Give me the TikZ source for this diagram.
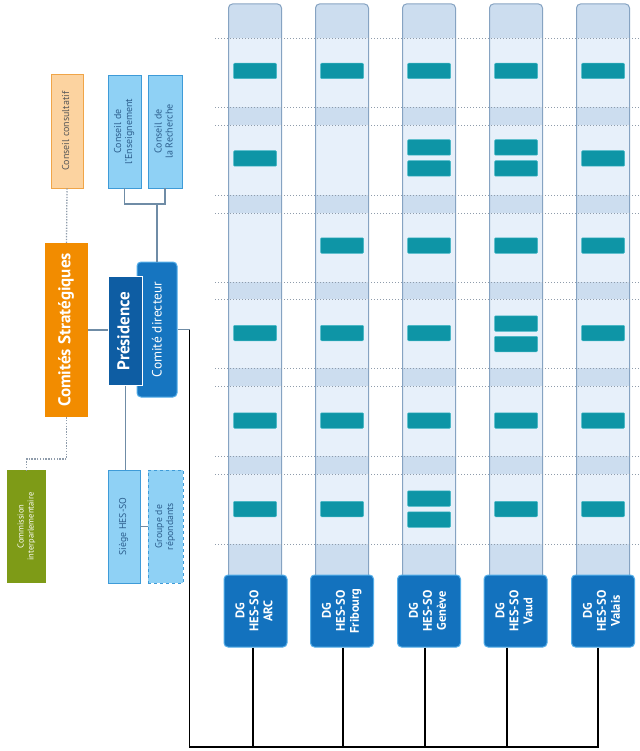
\documentclass[tikz,border=0pt]{standalone}
\usepackage{fontspec}
\setmainfont{PT Sans}
\usepackage{graphicx}
\usetikzlibrary{calc}
\definecolor{orangeS}{HTML}{F28C00}
\definecolor{orangeL}{HTML}{FCD3A0}
\definecolor{orangeB}{HTML}{F0A548}
\definecolor{blueL}{HTML}{8FD1F5}
\definecolor{blueLB}{HTML}{3E9BD8}
\definecolor{blueTxt}{HTML}{2D5F8E}
\definecolor{presBlue}{HTML}{0E5DA3}
\definecolor{cdBlue}{HTML}{1675C0}
\definecolor{cdBorder}{HTML}{55AEE8}
\definecolor{dgBlue}{HTML}{1372BE}
\definecolor{greenC}{HTML}{7E9B17}
\definecolor{colFill}{HTML}{E7F0FA}
\definecolor{colBand}{HTML}{CCDDEF}
\definecolor{colBorder}{HTML}{86A3C2}
\definecolor{tealBar}{HTML}{0E95A6}
\definecolor{tealBorder}{HTML}{45B9C7}
\definecolor{dotGray}{HTML}{8F9CAB}
\definecolor{connGray}{HTML}{6F8CA6}
\newcommand\vtxt[1]{\rotatebox{90}{\begin{tabular}{@{}c@{}}#1\end{tabular}}}
\begin{document}
\begin{tikzpicture}[x=1pt,y=-1pt,
  every node/.style={inner sep=0pt, align=center},
  lbbox/.style={draw=blueLB, fill=blueL, line width=0.8pt, text=blueTxt,
     font=\fontsize{10}{11}\selectfont},
  ccbox/.style={draw=orangeB, fill=orangeL, line width=0.8pt, text=black!65,
     font=\fontsize{10}{11}\selectfont},
  csbox/.style={fill=orangeS, text=white, font=\bfseries\fontsize{17}{19}\selectfont},
  presbox/.style={fill=presBlue, draw=white, line width=1.2pt, text=white,
     font=\bfseries\fontsize{17}{19}\selectfont},
  cdbox/.style={fill=cdBlue, draw=cdBorder, line width=1pt, rounded corners=4pt,
     text=white, font=\fontsize{13.5}{15}\selectfont},
  greenbox/.style={fill=greenC, text=white, font=\fontsize{8.5}{10}\selectfont},
  dgbox/.style={fill=dgBlue, draw=cdBorder, line width=1pt, rounded corners=4pt,
     text=white, minimum width=63, minimum height=72,
     font=\bfseries\fontsize{12.5}{14}\selectfont},
  bar/.style={fill=tealBar, draw=tealBorder, line width=0.5pt, rounded corners=1pt,
     minimum width=43, minimum height=15.5},
  conn/.style={draw=connGray, line width=1.2pt},
  dotconn/.style={draw=dotGray, line width=1.3pt, dash pattern=on 1.3pt off 1.5pt},
  blk/.style={draw=black, line width=1.7pt},
  gridline/.style={draw=dotGray, line width=0.9pt, dash pattern=on 1.2pt off 1.8pt}
]
\useasboundingbox (0,0) rectangle (639,751);
\fill[white] (0,0) rectangle (639,751);

% ---------- columns ----------
\foreach \i in {0,...,4}{
  \pgfmathsetmacro\cx{255+87*\i}
  \begin{scope}
    \clip[rounded corners=4pt] (\cx-26.5,4) rectangle (\cx+26.5,585);
    \fill[colFill] (\cx-26.5,4) rectangle (\cx+26.5,585);
    \foreach \a/\b in {4/38,107/125,195/213,282/299,368/386,456/474,544/585}
      \fill[colBand] (\cx-26.5,\a) rectangle (\cx+26.5,\b);
  \end{scope}
  \draw[colBorder, line width=1pt, rounded corners=4pt] (\cx-26.5,585) -- (\cx-26.5,4) -- (\cx+26.5,4) -- (\cx+26.5,585);
}
% ---------- dotted grid lines ----------
\foreach \y in {38,107,125,195,213,282,299,368,386,456,474,544}
  \draw[gridline] (215,\y) -- (639,\y);

% ---------- bars ----------
\foreach \cx/\ys [count=\i] in {
  255/{71,158.5,333,420.5,509},
  342/{71,245.5,333,420.5,509},
  429/{71,147.5,168.5,245.5,333,420.5,498.5,519.5},
  516/{71,147.5,168.5,245.5,323.5,344,420.5,509},
  603/{71,158.5,245.5,333,420.5,509}}{
  \foreach \y [count=\j] in \ys
    \node[bar] (bar-\i-\j) at (\cx,\y) {};
}

% ---------- DG boxes ----------
\node[dgbox] (dg1) at (255.5,611) {\vtxt{DG\\HES-SO\\ARC}};
\node[dgbox] (dg2) at (342,611) {\vtxt{DG\\HES-SO\\Fribourg}};
\node[dgbox] (dg3) at (429,611) {\vtxt{DG\\HES-SO\\Genève}};
\node[dgbox] (dg4) at (515.5,611) {\vtxt{DG\\HES-SO\\Vaud}};
\node[dgbox] (dg5) at (603,611) {\vtxt{DG\\HES-SO\\Valais}};

% ---------- left organisation ----------
\node[ccbox, minimum width=32, minimum height=114] (cc) at (67,131) {\vtxt{Conseil consultatif}};
\node[lbbox, minimum width=33, minimum height=113] (ens) at (124.5,131.5) {\vtxt{Conseil de\\l'Enseignement}};
\node[lbbox, minimum width=34, minimum height=113] (rech) at (165,131.5) {\vtxt{Conseil de\\la Recherche}};
\node[csbox, minimum width=43, minimum height=174] (cs) at (66.5,330) {\vtxt{Comités Stratégiques}};
\node[cdbox, minimum width=40, minimum height=135] (cd) at (157,329.5) {\hspace*{3pt}\vtxt{Comité directeur}};
\node[presbox, minimum width=34, minimum height=109] (pres) at (125.5,331) {\vtxt{Présidence}};
\node[lbbox, font=\fontsize{9.8}{11}\selectfont, minimum width=32, minimum height=113] (siege) at (124,526.5) {\vtxt{Siège HES-SO}};
\node[lbbox, font=\fontsize{9.8}{11}\selectfont, dashed, minimum width=35, minimum height=113] (grp) at (165.5,526.5) {\vtxt{Groupe de\\répondants}};
\node[greenbox, minimum width=39, minimum height=113] (com) at (26.5,526.5) {\vtxt{Commission\\interparlementaire}};

% ---------- connectors ----------
\coordinate (br) at (157,204);
\draw[conn] (ens.south) |- (br) -| (rech.south);
\draw[conn] (br) -- (cd.north);
\draw[dotconn] (cc.south) -- (cs.north);
\draw[conn] (cs.east) -- (cs.east -| pres.west);
\draw[conn] (pres.south) -- (pres.south |- siege.north);
\draw[conn] (siege.east) -- (grp.west);
\coordinate (cj) at (26.5,459);
\draw[dotconn] (cs.south) |- (cj) -- (com.north);

\coordinate (bt) at (189.5,330);
\coordinate (bb) at (189.5,747);
\draw[conn] (cd.east) -- (cd.east -| bt);
\draw[blk] (bt) -- (bb) -| ([xshift=-5pt]dg5.south);
\foreach \n/\s in {dg1/-2.5,dg2/1.3,dg3/-3.7,dg4/-8.5}
  \draw[blk] ([xshift=\s pt]\n.south) -- ([xshift=\s pt]\n.south |- bb);
\end{tikzpicture}
\end{document}
